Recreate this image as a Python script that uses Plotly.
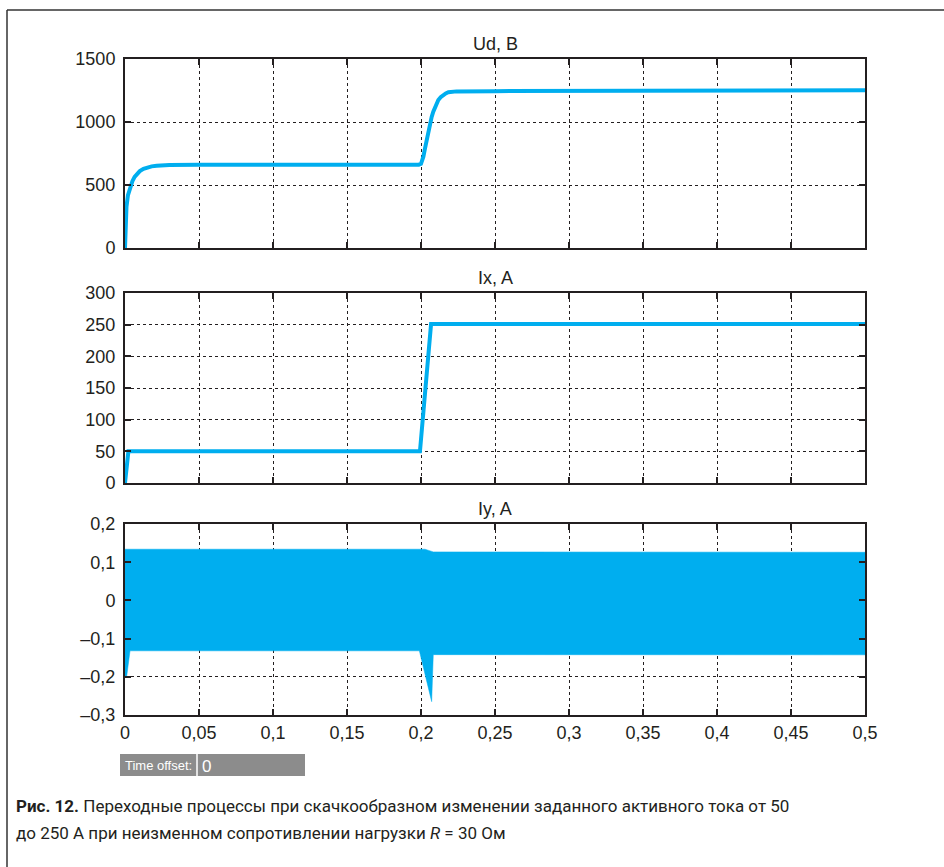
import plotly.graph_objects as go

W, H = 944, 867

# ---------------- data ----------------
t_ud = [0, 0.0005, 0.001, 0.002, 0.0034, 0.005, 0.0065, 0.008, 0.01, 0.0125, 0.015, 0.018,
        0.0214, 0.026, 0.03, 0.05, 0.1, 0.15, 0.1985, 0.2, 0.2008, 0.2016, 0.2027, 0.2038,
        0.206, 0.2072, 0.2083, 0.2095, 0.2105, 0.2117, 0.2133, 0.215, 0.2167, 0.2185, 0.221,
        0.224, 0.25, 0.3, 0.4, 0.5]
ud = [0, 190, 328, 420, 484, 530, 565, 590, 610, 628, 640, 648,
      653, 657, 659, 660, 660, 661, 661, 668, 690, 725, 790, 857,
      990, 1040, 1082, 1121, 1150, 1175, 1197, 1214, 1227, 1236, 1241,
      1243, 1245, 1247, 1250, 1252]

t_ix = [0, 0.0023, 0.1993, 0.2068, 0.5]
ix = [0, 50, 50, 251, 251]

t_iy_up = [0, 0.1993, 0.2027, 0.2083, 0.5]
iy_up = [0.134, 0.134, 0.134, 0.127, 0.126]
t_iy_lo = [0, 0.0011, 0.0034, 0.1989, 0.2072, 0.2083, 0.5]
iy_lo = [-0.2, -0.2, -0.132, -0.132, -0.265, -0.142, -0.1425]

x_ticks = [0, 0.05, 0.1, 0.15, 0.2, 0.25, 0.3, 0.35, 0.4, 0.45, 0.5]
x_labels = ["0", "0,05", "0,1", "0,15", "0,2", "0,25", "0,3", "0,35", "0,4", "0,45", "0,5"]
ud_ticks = [0, 500, 1000, 1500]
ud_labels = ["0", "500", "1000", "1500"]
ix_ticks = [0, 50, 100, 150, 200, 250, 300]
ix_labels = ["0", "50", "100", "150", "200", "250", "300"]
iy_ticks = [-0.3, -0.2, -0.1, 0, 0.1, 0.2]
iy_labels = ["\u20130,3", "\u20130,2", "\u20130,1", "0", "0,1", "0,2"]

titles = ["Ud, B", "Ix, A", "Iy, A"]
caption_1 = "<b>Рис. 12.</b> Переходные процессы при скачкообразном изменении заданного активного тока от 50"
caption_2 = "до 250 А при неизменном сопротивлении нагрузки <i>R</i> = 30 Ом"

# ---------------- layout helpers ----------------
CYAN = "#00AEEF"
INK = "#231F20"
X0, X1 = 125, 865
panels = [(59, 248), (293, 483), (524, 715)]  # (top px, bottom px)


def py(p):
    return 1 - p / H


def px(p):
    return p / W


fig = go.Figure()

fig.add_trace(go.Scatter(x=t_ud, y=ud, mode="lines",
                         line=dict(color=CYAN, width=4),
                         xaxis="x", yaxis="y", showlegend=False))
fig.add_trace(go.Scatter(x=t_ix, y=ix, mode="lines", line=dict(color=CYAN, width=4),
                         xaxis="x2", yaxis="y2", showlegend=False))
fig.add_trace(go.Scatter(x=t_iy_up + t_iy_lo[::-1], y=iy_up + iy_lo[::-1], mode="lines",
                         fill="toself", fillcolor=CYAN, line=dict(color=CYAN, width=0.5),
                         xaxis="x3", yaxis="y3", showlegend=False))

tickfont = dict(family="Liberation Sans, Arial, sans-serif", size=18, color=INK)
common_x = dict(range=[0, 0.5], tickvals=x_ticks, showline=True, linecolor=INK, linewidth=2,
                mirror="ticks", ticks="inside", ticklen=6, tickcolor=INK, tickwidth=1.5,
                showgrid=True, gridcolor=INK, gridwidth=1, griddash="3px,3px",
                zeroline=False, domain=[px(X0), px(X1)], tickfont=tickfont, automargin=False)
common_y = dict(showline=True, linecolor=INK, linewidth=2, mirror="ticks", ticks="inside",
                ticklen=6, tickcolor=INK, tickwidth=1.5, showgrid=True, gridcolor=INK,
                gridwidth=1, griddash="3px,3px", zeroline=False, tickfont=tickfont,
                ticklabelstandoff=4, automargin=False)

layout = dict(
    width=W, height=H, autosize=False,
    margin=dict(l=0, r=0, t=0, b=0, pad=0),
    paper_bgcolor="white", plot_bgcolor="white",
    showlegend=False,
)
layout["xaxis"] = dict(common_x, anchor="y", showticklabels=False, ticktext=x_labels)
layout["xaxis2"] = dict(common_x, anchor="y2", showticklabels=False, ticktext=x_labels, matches="x")
layout["xaxis3"] = dict(common_x, anchor="y3", showticklabels=True, ticktext=x_labels, matches="x")
layout["yaxis"] = dict(common_y, anchor="x", range=[0, 1500], tickvals=ud_ticks, ticktext=ud_labels,
                       domain=[py(panels[0][1]), py(panels[0][0])])
layout["yaxis2"] = dict(common_y, anchor="x2", range=[0, 300], tickvals=ix_ticks, ticktext=ix_labels,
                        domain=[py(panels[1][1]), py(panels[1][0])])
layout["yaxis3"] = dict(common_y, anchor="x3", range=[-0.3, 0.2], tickvals=iy_ticks, ticktext=iy_labels,
                        domain=[py(panels[2][1]), py(panels[2][0])])
fig.update_layout(**layout)

ann = []
for (top, bot), title in zip(panels, titles):
    ann.append(dict(text=title, xref="paper", yref="paper", x=px((X0 + X1) / 2), y=py(top - 3),
                    xanchor="center", yanchor="bottom", showarrow=False,
                    font=dict(family="Liberation Sans, Arial, sans-serif", size=18, color=INK)))

# time offset widget
ann.append(dict(text="Time offset:", xref="paper", yref="paper", x=px(123), y=py(765),
                xanchor="left", yanchor="middle", showarrow=False,
                font=dict(family="Liberation Sans, Arial, sans-serif", size=13, color="white")))
ann.append(dict(text="0", xref="paper", yref="paper", x=px(200), y=py(766),
                xanchor="left", yanchor="middle", showarrow=False,
                font=dict(family="Liberation Sans, Arial, sans-serif", size=17, color="white")))

capfont = dict(family="Roboto, sans-serif", size=17, color=INK)
ann.append(dict(text=caption_1, xref="paper", yref="paper", x=px(14), y=py(806),
                xanchor="left", yanchor="middle", showarrow=False, font=capfont))
ann.append(dict(text=caption_2, xref="paper", yref="paper", x=px(14), y=py(833),
                xanchor="left", yanchor="middle", showarrow=False, font=capfont))

shapes = [
    dict(type="line", xref="paper", yref="paper", x0=px(7), x1=px(7), y0=0, y1=py(10),
         line=dict(color="#333333", width=1.5)),
    dict(type="line", xref="paper", yref="paper", x0=px(7), x1=1, y0=py(10), y1=py(10),
         line=dict(color="#333333", width=1.5)),
    dict(type="rect", xref="paper", yref="paper", x0=px(120), x1=px(305), y0=py(776), y1=py(754),
         fillcolor="#8C8C8C", line=dict(width=0), layer="below"),
    dict(type="line", xref="paper", yref="paper", x0=px(197), x1=px(197), y0=py(776), y1=py(754),
         line=dict(color="white", width=1.5)),
]
fig.update_layout(annotations=ann, shapes=shapes)

fig.write_html("out.html")
